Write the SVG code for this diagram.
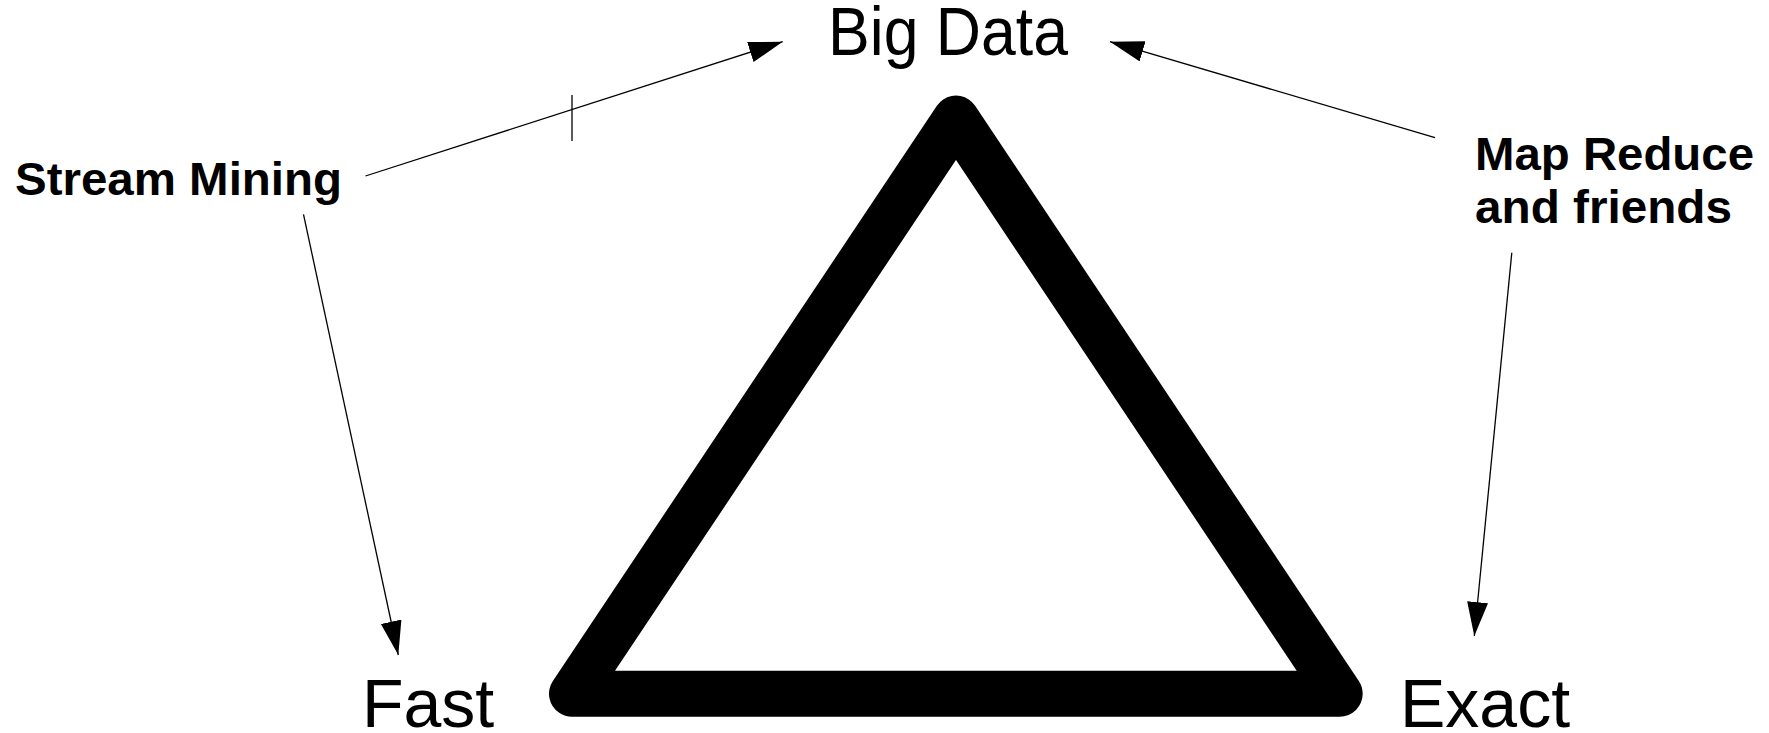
<svg xmlns="http://www.w3.org/2000/svg" width="1769" height="733" viewBox="0 0 1769 733">
  <style>
    .big { font-family: "Liberation Sans", Arial, sans-serif; font-size: 68px; fill: #000; }
    .lbl { font-family: "Liberation Sans", Arial, sans-serif; font-size: 47px; font-weight: bold; fill: #000; }
    .conn { stroke: #000; stroke-width: 1.3; fill: none; marker-end: url(#arrow); }
  </style>
  <defs>
    <marker id="arrow" markerUnits="userSpaceOnUse" markerWidth="36" markerHeight="22" refX="34" refY="10.5" orient="auto" viewBox="0 0 36 22">
      <path d="M0,0 L34,10.5 L0,21 Z" fill="#000"/>
    </marker>
  </defs>
  <rect width="1769" height="733" fill="#fff"/>

  <g id="triangle">
    <path d="M956,118.6 L572,693.7 L1339.7,693.7 Z" fill="none" stroke="#000" stroke-width="46" stroke-linejoin="round"/>
  </g>

  <g id="big-data"><text class="big" x="828" y="55" font-size="60" textLength="240" lengthAdjust="spacingAndGlyphs">Big Data</text></g>
  <g id="fast"><text class="big" x="362" y="726.7">Fast</text></g>
  <g id="exact"><text class="big" x="1400" y="726.7">Exact</text></g>
  <g id="stream-mining"><text class="lbl" x="15" y="195" textLength="327" lengthAdjust="spacingAndGlyphs">Stream Mining</text></g>
  <g id="map-reduce"><text class="lbl" x="1475" y="170" textLength="279" lengthAdjust="spacingAndGlyphs">Map Reduce</text><text class="lbl" x="1475" y="223" textLength="257" lengthAdjust="spacingAndGlyphs">and friends</text></g>

  <g id="connectors">
    <line class="conn" x1="365.5" y1="176" x2="782.7" y2="41.7"/>
    <line x1="572" y1="95" x2="572" y2="141" stroke="#000" stroke-width="1.3"/>
    <line class="conn" x1="1435" y1="137.6" x2="1110" y2="41.7"/>
    <line class="conn" x1="303.5" y1="214.4" x2="398.3" y2="655"/>
    <line class="conn" x1="1511.8" y1="252.7" x2="1474.3" y2="636"/>
  </g>
</svg>
